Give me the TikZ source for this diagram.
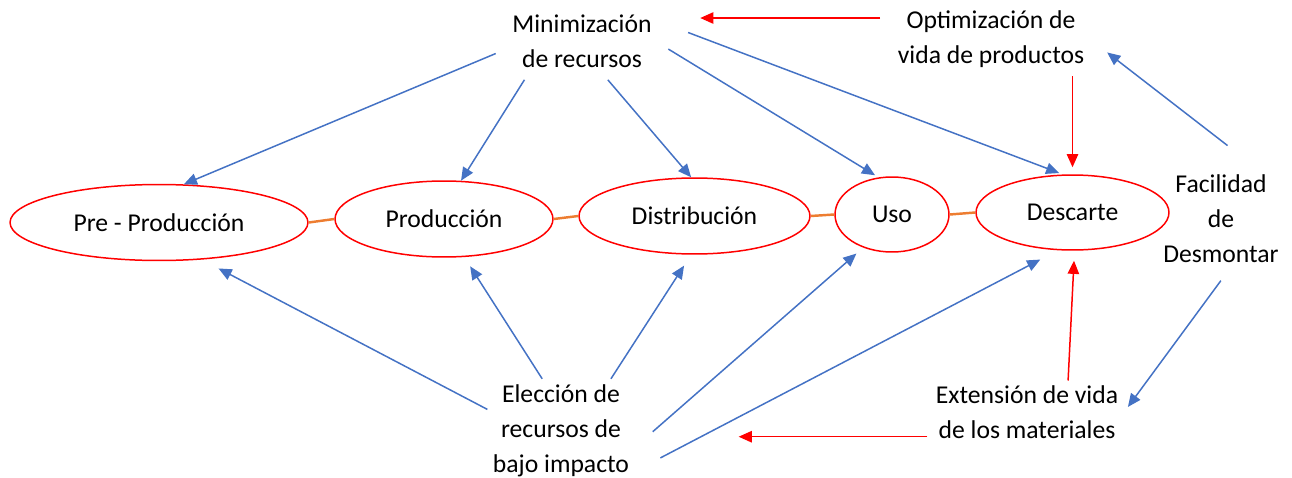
\documentclass[tikz,border=0pt]{standalone}
\usepackage{fontspec}
\setmainfont{Carlito}
\usetikzlibrary{shapes.geometric,arrows.meta}
\definecolor{officeblue}{HTML}{4472C4}
\definecolor{officeorange}{HTML}{ED7D31}
\newcommand\diagfont{\fontsize{14.6}{19.9}\selectfont}
\tikzstyle{stage}=[ellipse,draw=red,line width=0.85pt,inner sep=0pt,font=\diagfont]
\tikzstyle{factor}=[align=center,inner sep=3pt,font=\diagfont]
\tikzstyle{influence}=[-{Triangle[length=7.5pt,width=6.5pt]},color=officeblue,line width=0.85pt]
\tikzstyle{feedback}=[-{Triangle[length=7.5pt,width=6.5pt]},color=red,line width=0.85pt]
\tikzstyle{link}=[draw=officeorange,line width=1.4pt]

\begin{document}
\begin{tikzpicture}[x=0.02cm,y=-0.02cm]
                  \useasboundingbox (0,0) rectangle (1292,477);

                  \node (pre) at (159,222.5) [stage,minimum width=5.96cm,minimum height=1.52cm] {Pre - Producción};
                  \node (prod) at (444,219) [stage,minimum width=4.36cm,minimum height=1.52cm] {Producción};
                  \node (dist) at (694.5,216) [stage,minimum width=4.62cm,minimum height=1.52cm] {Distribución};
                  \node (uso) at (892,214.5) [stage,minimum width=2.28cm,minimum height=1.5cm] {Uso};
                  \node (desc) at (1072.5,212.5) [stage,minimum width=3.86cm,minimum height=1.5cm] {Descarte};

                  \node (min) at (582,41) [factor] {Minimización\\de recursos};
                  \node (opt) at (991,39) [factor] {Optimización de\\vida de productos};
                  \node (fac) at (1221,219) [factor] {Facilidad\\de\\Desmontar};
                  \node (elec) at (561,430.5) [factor] {Elección de\\recursos de\\bajo impacto};
                  \node (ext) at (1027,412.6) [factor] {Extensión de vida\\de los materiales};

                  \draw [link] (pre.east) -- (prod.west);
                  \draw [link] (prod.east) -- (dist.west);
                  \draw [link] (dist.east) -- (uso.west);
                  \draw [link] (uso.east) -- (desc.west);

                  \draw [influence,shorten <=0.24cm] (min.186) -- (pre.57);
                  \draw [influence,shorten <=0.16cm] (min.211) -- (prod.66);
                  \draw [influence,shorten <=0.18cm] (min.302) -- (dist.95);
                  \draw [influence,shorten <=0.26cm,shorten >=0.08cm] (min.359) -- (uso.110);
                  \draw [influence,shorten <=0.66cm,shorten >=0.08cm] (min.15) -- (desc.104);

                  \draw [influence,shorten >=0.38cm] (elec.164) -- (pre.319);
                  \draw [influence,shorten >=0.22cm] (elec.110) -- (prod.298);
                  \draw [influence,shorten >=0.26cm] (elec.46) -- (dist.265);
                  \draw [influence,shorten <=0.48cm,shorten >=0.18cm] (elec.347) -- (uso.229);
                  \draw [influence,shorten <=0.58cm,shorten >=0.4cm] (elec.331) -- (desc.249);

                  \draw [influence,shorten <=0.78cm,shorten >=0.44cm] (fac.53) -- (opt.east);
                  \draw [influence,shorten <=0.3cm,shorten >=0.14cm] (fac.280) -- (ext.east);

                  \draw [feedback,shorten <=0.24cm,shorten >=0.86cm] (opt.168) -- (opt.168 -| min.east);
                  \draw [feedback,shorten <=0.06cm,shorten >=0.14cm] (opt.south -| desc.north) -- (desc.north);
                  \draw [feedback,shorten >=0.2cm] (ext.38) -- (desc.273);
                  \draw [feedback,shorten <=0.06cm,shorten >=2.08cm] (ext.194) -- (ext.194 -| elec.east);
              \end{tikzpicture}
\end{document}
